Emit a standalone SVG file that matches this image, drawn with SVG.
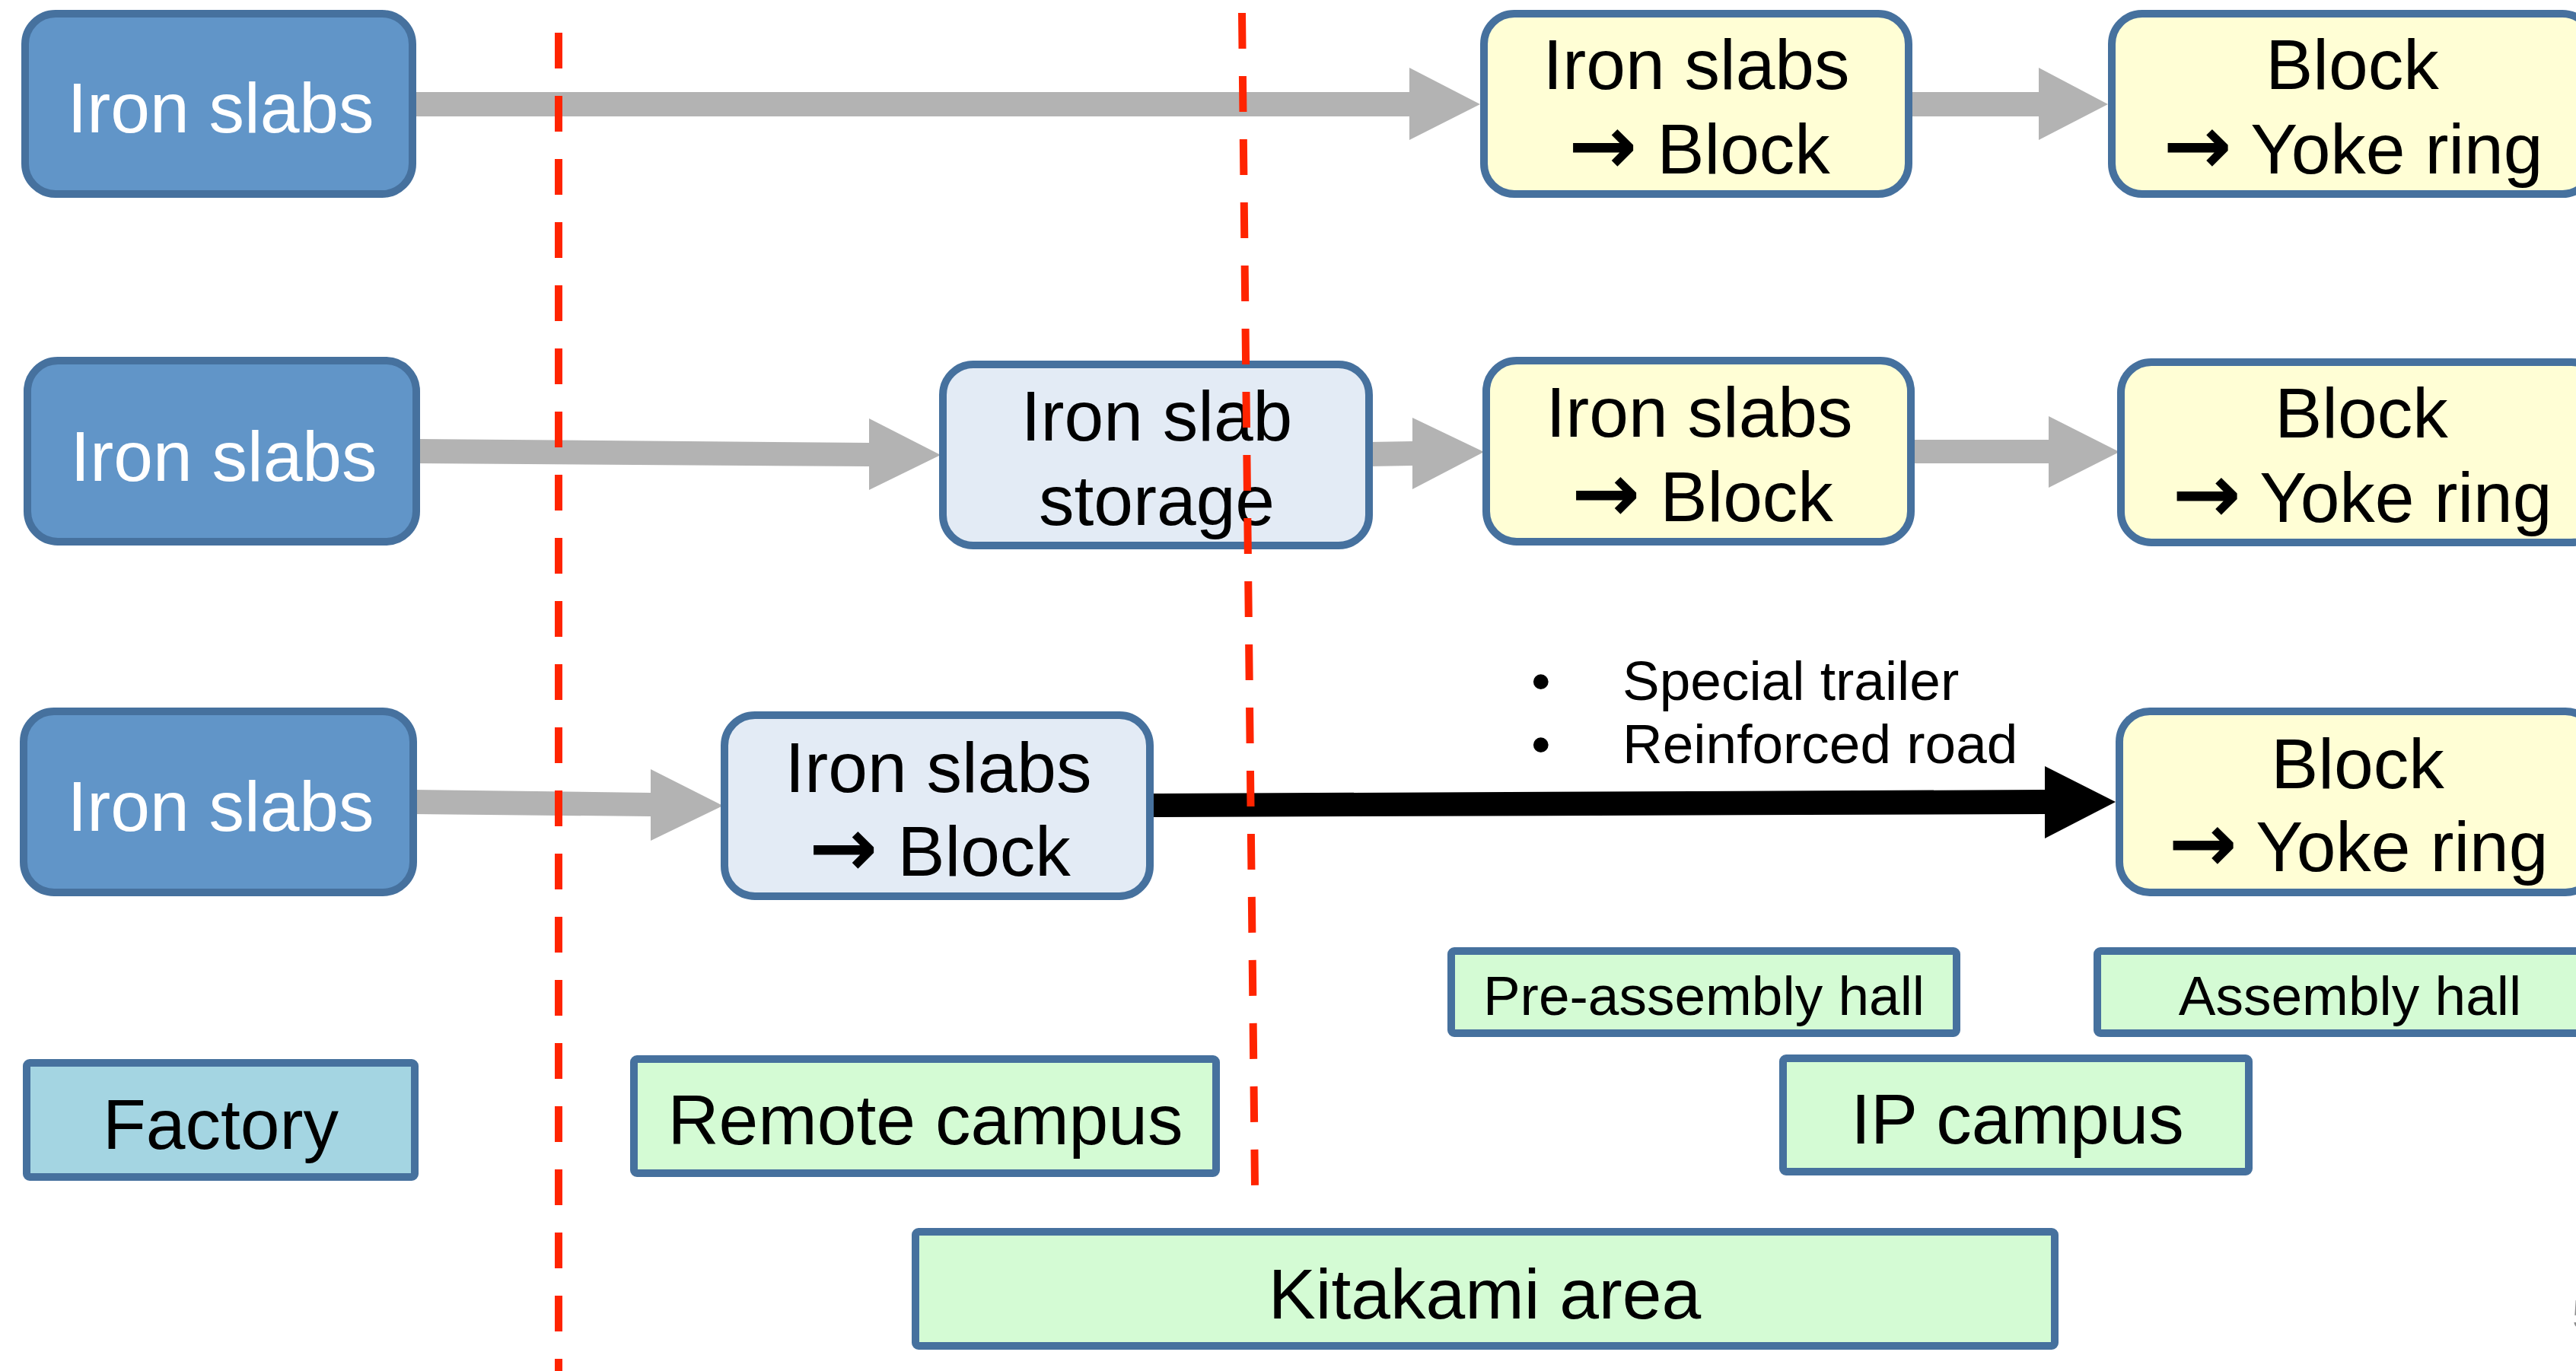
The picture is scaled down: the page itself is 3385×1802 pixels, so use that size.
<svg xmlns="http://www.w3.org/2000/svg" width="3385" height="1802" viewBox="0 0 3385 1802">
<style>
.box{stroke:#46719E;stroke-width:10}
.src{fill:#6195C8}
.yel{fill:#FFFED5}
.gry{fill:#E3EBF5}
.grn{fill:#D4FBD4}
.fac{fill:#A4D5E2}
text{font-family:"Liberation Sans",Arial,sans-serif;text-anchor:middle;fill:#000}
.big{font-size:93px}
.wt{fill:#FFFFFF}
.mid{font-size:73px}
.note{font-size:73px;text-anchor:start}
.ar{font-family:"DejaVu Sans",sans-serif;font-weight:bold;font-size:108px}
.garrow{fill:#B3B3B3}
.barrow{fill:#000}
.red{stroke:#FF2400;stroke-width:10;stroke-dasharray:47 36;fill:none}
</style>
<rect width="3385" height="1802" fill="#FFFFFF"/>
<g id="connectors">
<polygon class="garrow" points="547,121 1852,121 1852,89 1945,137 1852,184 1852,153 547,153"/>
<polygon class="garrow" points="2510,121 2679,121 2679,89 2770,137 2679,184 2679,153 2510,153"/>
<polygon class="garrow" points="548,577 1142,582 1142,550 1236,598 1142,644 1142,613 548,609"/>
<polygon class="garrow" points="1799,581 1856,580 1856,549 1950,594 1856,643 1856,612 1799,613"/>
<polygon class="garrow" points="2514,578 2692,578 2692,547 2785,594 2692,641 2692,609 2514,609"/>
<polygon class="garrow" points="543,1038 855,1042 855,1011 950,1059 855,1105 855,1073 543,1070"/>
<polygon class="barrow" points="1516,1043 2687,1038 2687,1007 2780,1054 2687,1102 2687,1070 1516,1074"/>
</g>
<g id="n-r1-src"><rect class="box src" x="33" y="18" width="509" height="237" rx="40"/><text class="big wt" x="290" y="174">Iron slabs</text></g>
<g id="n-r1-block"><rect class="box yel" x="1950" y="18" width="558" height="237" rx="40"/><text class="big" x="2229" y="117">Iron slabs</text><text class="big" x="2233" y="228"><tspan class="ar">→</tspan> Block</text></g>
<g id="n-r1-yoke"><rect class="box yel" x="2775" y="18" width="632" height="237" rx="40"/><text class="big" x="3091" y="117">Block</text><text class="big" x="3092" y="228"><tspan class="ar">→</tspan> Yoke ring</text></g>
<g id="n-r2-src"><rect class="box src" x="36" y="474" width="511" height="238" rx="40"/><text class="big wt" x="294" y="632">Iron slabs</text></g>
<g id="n-r2-storage"><rect class="box gry" x="1239" y="479" width="560" height="238" rx="40"/><text class="big" x="1520" y="579">Iron slab</text><text class="big" x="1520" y="690">storage</text></g>
<g id="n-r2-block"><rect class="box yel" x="1953" y="474" width="558" height="238" rx="40"/><text class="big" x="2233" y="574">Iron slabs</text><text class="big" x="2237" y="685"><tspan class="ar">→</tspan> Block</text></g>
<g id="n-r2-yoke"><rect class="box yel" x="2787" y="476" width="632" height="237" rx="40"/><text class="big" x="3103" y="575">Block</text><text class="big" x="3104" y="686"><tspan class="ar">→</tspan> Yoke ring</text></g>
<g id="n-r3-src"><rect class="box src" x="31" y="935" width="512" height="238" rx="40"/><text class="big wt" x="290" y="1092">Iron slabs</text></g>
<g id="n-r3-block"><rect class="box gry" x="952" y="940" width="559" height="238" rx="40"/><text class="big" x="1233" y="1041">Iron slabs</text><text class="big" x="1235" y="1151"><tspan class="ar">→</tspan> Block</text></g>
<g id="n-r3-yoke"><rect class="box yel" x="2785" y="935" width="626" height="238" rx="40"/><text class="big" x="3098" y="1036">Block</text><text class="big" x="3099" y="1145"><tspan class="ar">→</tspan> Yoke ring</text></g>
<g id="n-note"><text class="note" x="2012" y="920">•</text><text class="note" x="2132" y="920">Special trailer</text><text class="note" x="2012" y="1003">•</text><text class="note" x="2132" y="1003">Reinforced road</text></g>
<g id="n-factory"><rect class="box fac" x="35" y="1397" width="510" height="150" rx="4"/><text class="big" x="290" y="1510">Factory</text></g>
<g id="n-remote"><rect class="box grn" x="833" y="1392" width="765" height="150" rx="4"/><text class="big" x="1216" y="1504">Remote campus</text></g>
<g id="n-kitakami"><rect class="box grn" x="1203" y="1619" width="1497" height="150" rx="4"/><text class="big" x="1951" y="1733">Kitakami area</text></g>
<g id="n-preassembly"><rect class="box grn" x="1907" y="1250" width="664" height="108" rx="4"/><text class="mid" x="2239" y="1334">Pre-assembly hall</text></g>
<g id="n-assembly"><rect class="box grn" x="2756" y="1250" width="664" height="108" rx="4"/><text class="mid" x="3088" y="1334">Assembly hall</text></g>
<g id="n-ip"><rect class="box grn" x="2343" y="1391" width="612" height="149" rx="4"/><text class="big" x="2651" y="1503">IP campus</text></g>
<g id="boundaries">
<line class="red" x1="734" y1="43" x2="734" y2="1802"/>
<line class="red" x1="1632" y1="17" x2="1649" y2="1558"/>
</g>
<text x="3380" y="1747" style="font-size:56px;text-anchor:start;fill:#8C8C8C">5</text>
</svg>
